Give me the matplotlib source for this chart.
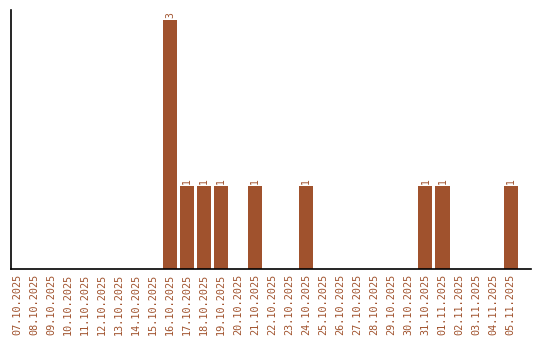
import matplotlib
matplotlib.use("Agg")
import matplotlib.pyplot as plt
import numpy as np

# ── Data ──────────────────────────────────────────────────────────────────────
DATES = [
    "07.10.2025", "08.10.2025", "09.10.2025", "10.10.2025", "11.10.2025",
    "12.10.2025", "13.10.2025", "14.10.2025", "15.10.2025", "16.10.2025",
    "17.10.2025", "18.10.2025", "19.10.2025", "20.10.2025", "21.10.2025",
    "22.10.2025", "23.10.2025", "24.10.2025", "25.10.2025", "26.10.2025",
    "27.10.2025", "28.10.2025", "29.10.2025", "30.10.2025", "31.10.2025",
    "01.11.2025", "02.11.2025", "03.11.2025", "04.11.2025", "05.11.2025",
]
COUNTS = [
    0, 0, 0, 0, 0, 0, 0, 0, 0, 3,
    1, 1, 1, 0, 1, 0, 0, 1, 0, 0,
    0, 0, 0, 0, 1, 1, 0, 0, 0, 1,
]

COLOR = "#a0522d"
FONT = "DejaVu Sans Mono"

fig = plt.figure(figsize=(5.4, 3.4), dpi=100, facecolor="white")
ax = fig.add_axes([11 / 540, 1 - 269 / 340, 520 / 540, 259 / 340])

x = np.arange(len(DATES))
bars = ax.bar(x, COUNTS, width=14 / 17, color=COLOR)

for xi, v in zip(x, COUNTS):
    if v > 0:
        ax.text(xi, v + 0.02, str(v), rotation=90, ha="center", va="bottom",
                fontsize=7, color=COLOR, family=FONT)

ax.set_xlim(-6 / 17, 30.2)
ax.set_ylim(0, 3.12)
ax.set_xticks(x)
ax.set_xticklabels(DATES, rotation=90, fontsize=7.3, color=COLOR, family=FONT)
ax.tick_params(axis="x", length=0, pad=3.5)
ax.set_yticks([])

for side in ("top", "right"):
    ax.spines[side].set_visible(False)
for side in ("left", "bottom"):
    ax.spines[side].set_linewidth(1.2)
    ax.spines[side].set_color("black")

fig.savefig("out.png", dpi=100, facecolor="white")
